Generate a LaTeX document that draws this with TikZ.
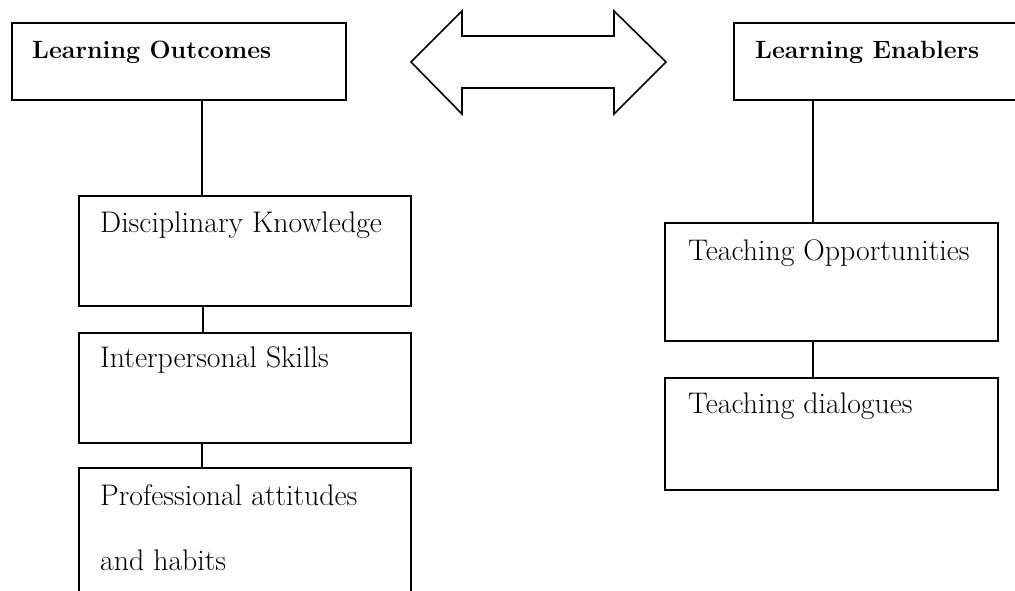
\documentclass[tikz,border=0pt]{standalone}
\usepackage{fontspec}
\begin{document}
\begin{tikzpicture}[x=1pt,y=-1pt,
  box/.style={draw, line width=1.6pt, rectangle, inner sep=0pt, anchor=north west},
  lbl/.style={anchor=base west, inner sep=0pt, font=\fontsize{29.8}{34}\selectfont},
  head/.style={anchor=base west, inner sep=0pt, font=\fontsize{25}{30}\selectfont\bfseries},
  link/.style={line width=1.6pt}]
\useasboundingbox (0,0) rectangle (1015,590);
\clip (0,0) rectangle (1015,590);
% boxes
\node[box, minimum width=334pt, minimum height=77pt] (lo) at (11,22) {};
\node[box, minimum width=332pt, minimum height=110pt] (dk) at (78,195) {};
\node[box, minimum width=332pt, minimum height=110pt] (is) at (78,332) {};
\node[box, minimum width=332pt, minimum height=150pt] (pa) at (78,467) {};
\node[box, minimum width=310pt, minimum height=77pt] (le) at (733,22) {};
\node[box, minimum width=333pt, minimum height=118pt] (to) at (664,222) {};
\node[box, minimum width=333pt, minimum height=112pt] (td) at (664,377) {};
% texts
\node[head] (tlo) at (32,58) {Learning Outcomes};
\node[head] (tle) at (755,58) {Learning Enablers};
\node[lbl] (tdk) at (100,232) {Disciplinary Knowledge};
\node[lbl] (tis) at (100,367) {Interpersonal Skills};
\node[lbl] (tpa1) at (100,505) {Professional attitudes};
\node[lbl] (tpa2) at (100,570) {and habits};
\node[lbl] (tto) at (688,260) {Teaching Opportunities};
\node[lbl] (ttd) at (688,413) {Teaching dialogues};
% connectors
\draw[link] ([xshift=191pt]lo.south west) -- ([xshift=124pt]dk.north west);
\draw[link] ([xshift=125pt]dk.south west) -- ([xshift=125pt]is.north west);
\draw[link] ([xshift=124pt]is.south west) -- ([xshift=124pt]pa.north west);
\draw[link] ([xshift=80pt]le.south west) -- ([xshift=149pt]to.north west);
\draw[link] ([xshift=149pt]to.south west) -- ([xshift=149pt]td.north west);
% double arrow
\draw[line width=1.6pt, line join=miter] (411,62) -- (462,11) -- (462,36) -- (614,36) -- (614,11) -- (666,62) -- (614,114) -- (614,88) -- (462,88) -- (462,114) -- cycle;
\end{tikzpicture}
\end{document}
